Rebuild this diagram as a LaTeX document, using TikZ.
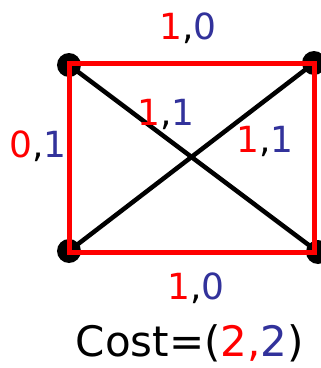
\documentclass[tikz,border=0pt]{standalone}
\usepackage{fontspec}
\setmainfont{DejaVu Sans}
\definecolor{pairred}{RGB}{255,0,0}
\definecolor{pairblue}{RGB}{50,50,155}
\newcommand{\pair}[2]{\textcolor{pairred}{#1},\textcolor{pairblue}{#2}}
\begin{document}
\begin{tikzpicture}[x=1pt,y=1pt,
  vertex/.style={circle,fill=black,minimum size=24pt,inner sep=0pt},
  cross/.style={line width=4.5pt},
  cycleedge/.style={draw=pairred,line width=5pt},
  pairlabel/.style={anchor=base,inner sep=0pt,font=\fontsize{36}{40}\selectfont}]
\useasboundingbox (0,0) rectangle (321,368);
\node[vertex] (tl) at (69,303) {};
\node[vertex] (tr) at (314,305) {};
\node[vertex] (bl) at (69,117) {};
\node[vertex] (br) at (318,116) {};
\draw[cross] (tl.center) -- (br.center);
\draw[cross] (bl.center) -- (tr.center);
\draw[cycleedge] (70,305) -- (315,305) -- (315,116) -- (70,116) -- cycle;
\node[pairlabel] (top) at (188,328) {\pair{1}{0}};
\node[pairlabel] (left) at (38,211) {\pair{0}{1}};
\node[pairlabel] (innerl) at (166,243) {\pair{1}{1}};
\node[pairlabel] (innerr) at (265,215) {\pair{1}{1}};
\node[pairlabel] (bottom) at (196,68) {\pair{1}{0}};
\node[pairlabel,font=\fontsize{42}{48}\selectfont] (cost) at (190,12)
  {Cost=(\textcolor{pairred}{2,}\textcolor{pairblue}{2})};
\end{tikzpicture}
\end{document}
